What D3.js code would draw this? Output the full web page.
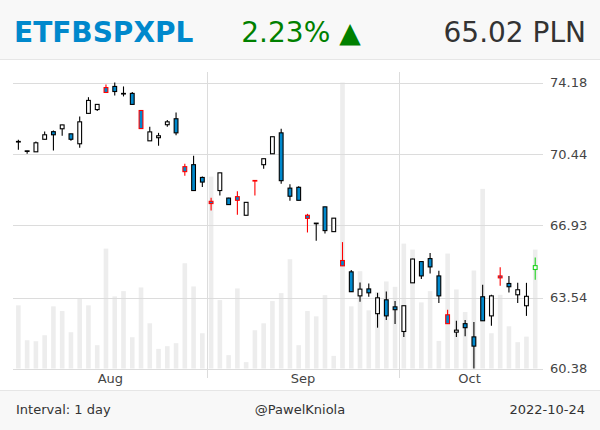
<!DOCTYPE html>
<html><head><meta charset="utf-8">
<script src="https://cdn.jsdelivr.net/npm/d3@7"></script>
<style>
html,body{margin:0;padding:0;background:#fff;}
svg{display:block;font-family:"DejaVu Sans",sans-serif;}
</style></head><body>
<svg id="chart" width="600" height="430"></svg>
<script>
const symbol = "ETFBSPXPL";
const changeLabel = "2.23%";
const priceLabel = "65.02 PLN";
const intervalLabel = "Interval: 1 day";
const authorLabel = "@PawelKniola";
const dateLabel = "2022-10-24";

const dates = [
 "2022-08-01","2022-08-02","2022-08-03","2022-08-04","2022-08-05","2022-08-08","2022-08-09","2022-08-10","2022-08-11","2022-08-12",
 "2022-08-16","2022-08-17","2022-08-18","2022-08-19","2022-08-22","2022-08-23","2022-08-24","2022-08-25","2022-08-26","2022-08-29",
 "2022-08-30","2022-08-31","2022-09-01","2022-09-02","2022-09-05","2022-09-06","2022-09-07","2022-09-08","2022-09-09","2022-09-12",
 "2022-09-13","2022-09-14","2022-09-15","2022-09-16","2022-09-19","2022-09-20","2022-09-21","2022-09-22","2022-09-23","2022-09-26",
 "2022-09-27","2022-09-28","2022-09-29","2022-09-30","2022-10-03","2022-10-04","2022-10-05","2022-10-06","2022-10-07","2022-10-10",
 "2022-10-11","2022-10-12","2022-10-13","2022-10-14","2022-10-17","2022-10-18","2022-10-19","2022-10-20","2022-10-21","2022-10-24"];
const open = [
 71.09,70.61,70.57,71.21,71.60,71.75,71.49,70.98,72.55,72.75,
 73.91,73.97,73.59,73.60,72.70,71.13,71.29,71.96,72.27,69.82,
 69.92,69.28,68.10,68.63,68.26,68.33,67.42,69.12,69.92,70.47,
 71.54,68.75,68.79,67.42,67.03,67.83,66.63,65.26,64.73,63.62,
 63.94,62.81,63.44,63.12,62.01,64.22,65.21,65.35,64.54,62.76,
 61.98,62.36,61.77,63.58,62.71,64.54,64.19,63.67,63.17,64.84];
const high = [
 71.18,70.63,71.10,71.61,71.66,71.96,71.50,72.39,73.40,73.02,
 74.07,74.18,73.97,73.67,72.71,71.85,71.54,72.21,72.60,69.97,
 70.37,69.33,68.27,69.52,68.28,68.60,68.06,69.14,70.22,71.34,
 71.75,68.94,68.84,67.49,67.04,67.84,67.28,66.13,64.82,64.23,
 64.19,63.76,63.82,63.39,63.17,65.34,65.22,65.61,64.78,62.99,
 62.49,62.53,62.44,64.13,63.67,64.94,64.54,64.22,64.22,65.40];
const low = [
 70.67,70.47,70.56,71.20,70.64,71.39,71.13,70.78,72.54,72.68,
 73.64,73.49,73.44,73.01,71.75,71.12,70.88,71.85,71.42,69.37,
 68.62,68.80,67.65,68.38,67.93,67.45,67.41,68.38,69.71,70.46,
 68.97,68.13,68.15,66.59,66.20,66.54,66.62,65.00,63.80,63.35,
 63.58,62.18,62.53,62.35,61.76,64.21,64.40,64.65,63.30,62.35,
 61.76,61.80,60.38,62.48,62.27,64.08,63.77,63.30,62.71,64.36];
const close = [
 71.10,70.62,71.03,71.44,71.44,71.95,71.21,72.11,73.23,73.02,
 73.65,73.70,73.60,73.02,71.76,71.59,71.39,72.11,71.54,69.57,
 68.63,69.05,67.99,69.51,67.94,68.15,68.05,69.13,70.22,71.34,
 69.12,68.35,68.15,67.27,67.04,66.68,67.28,65.01,63.81,63.93,
 63.76,63.53,62.71,62.99,63.17,65.33,64.54,64.96,63.62,62.36,
 62.07,62.18,61.36,62.49,63.62,64.45,64.04,63.90,63.60,65.02];
const volume = [
 2536,1136,1096,1336,2496,2308,1456,2816,2536,936,
 4816,2896,3108,1256,3256,1816,788,896,1016,4228,
 3296,1416,7708,2748,536,3216,256,1536,1816,2708,
 3028,4388,936,2308,2096,2948,508,11488,2496,3908,
 2336,3068,3496,3280,5016,4776,2656,3108,1108,4616,
 3176,2268,3936,7216,1416,2960,1696,1056,1280,4776];
const flaggedDates = ["2022-08-16","2022-08-22","2022-08-29","2022-09-01","2022-09-06",
 "2022-09-08","2022-09-16","2022-09-22","2022-10-10","2022-10-18"];
const yTickLabels = ["60.38","63.54","66.93","70.44","74.18"];
const monthLabels = ["Aug","Sep","Oct"];

const W = 600, H = 430;
const svg = d3.select("#chart");
const candles = dates.map((d,i)=>({date:d,o:open[i],h:high[i],l:low[i],c:close[i],v:volume[i],i}));

// panels
svg.append("rect").attr("x",0).attr("y",0).attr("width",W).attr("height",59).attr("fill","#f8f8f8");
svg.append("line").attr("x1",0).attr("x2",W).attr("y1",59.5).attr("y2",59.5).attr("stroke","#e6e6e6");
svg.append("rect").attr("x",0).attr("y",390).attr("width",W).attr("height",40).attr("fill","#f8f8f8");
svg.append("line").attr("x1",0).attr("x2",W).attr("y1",390.5).attr("y2",390.5).attr("stroke","#e6e6e6");

// header
svg.append("text").attr("x",14).attr("y",42).attr("font-size",28).attr("font-weight","bold")
  .attr("fill","#0088cc").text(symbol);
svg.append("text").attr("x",301).attr("y",42).attr("font-size",28).attr("text-anchor","middle")
  .attr("fill","#008000").text(changeLabel + " \u25B2");
svg.append("text").attr("x",586).attr("y",42).attr("font-size",28).attr("text-anchor","end")
  .attr("fill","#333").text(priceLabel);

// scales
const x = d3.scaleBand().domain(dates).range([14, 539.6]).paddingInner(0).paddingOuter(0);
const step = x.step();
const y = d3.scaleLog().domain([d3.min(low), d3.max(high)]).range([368.5, 82.5]);
const yv = d3.scaleLinear().domain([0, d3.max(volume)]).range([368.5, 82.5]);

const gridL = 13, gridR = 543;

// volume bars
const vw = 4.6;
svg.append("g").selectAll("rect").data(candles).join("rect")
  .attr("x", d => x(d.date) + (step - vw)/2)
  .attr("y", d => yv(d.v))
  .attr("width", vw)
  .attr("height", d => yv(0) - yv(d.v))
  .attr("fill", "#ededed");

// horizontal grid + y labels
const yTicks = yTickLabels.map(Number);
const gy = svg.append("g");
gy.selectAll("line").data(yTicks).join("line")
  .attr("x1", gridL).attr("x2", gridR)
  .attr("y1", d => Math.round(y(d)) + 0.5).attr("y2", d => Math.round(y(d)) + 0.5)
  .attr("stroke", "#dcdcdc");
gy.selectAll("text").data(yTickLabels).join("text")
  .attr("x", 550).attr("y", d => y(+d)).attr("dy","0.35em")
  .attr("font-size", 13).attr("fill", "#444").text(d => d);

// months
const months = d3.groups(candles, d => d.date.slice(0,7)).map(([k, arr], j) => ({
  label: monthLabels[j], first: arr[0].date, last: arr[arr.length-1].date
}));
svg.append("g").selectAll("line").data(months.slice(1)).join("line")
  .attr("x1", d => Math.round(x(d.first)) + 0.5).attr("x2", d => Math.round(x(d.first)) + 0.5)
  .attr("y1", 72).attr("y2", 378).attr("stroke", "#dcdcdc");
svg.append("g").selectAll("text").data(months).join("text")
  .attr("x", d => (x(d.first) + x(d.last) + step) / 2)
  .attr("y", 383).attr("text-anchor", "middle").attr("font-size", 13).attr("fill", "#444")
  .text(d => d.label);

// candles
const lastIdx = candles.length - 1;
const dayChange = close[lastIdx] / close[lastIdx - 1] - 1;
function strokeOf(d) {
  if (d.i === lastIdx) return dayChange >= 0 ? "#1fd31f" : "#ff0000";
  if (flaggedDates.includes(d.date)) return "#ff0000";
  return "#000";
}
const bw = 3.8;
const gc = svg.append("g");
gc.selectAll("line").data(candles).join("line")
  .attr("x1", d => x(d.date) + step/2).attr("x2", d => x(d.date) + step/2)
  .attr("y1", d => y(d.h)).attr("y2", d => y(d.l))
  .attr("stroke", strokeOf).attr("stroke-width", 1.1);
gc.selectAll("rect").data(candles).join("rect")
  .attr("x", d => x(d.date) + (step - bw)/2)
  .attr("y", d => y(Math.max(d.o, d.c)))
  .attr("width", bw)
  .attr("height", d => Math.max(0.6, Math.abs(y(d.o) - y(d.c))))
  .attr("fill", d => d.c >= d.o ? "#ffffff" : "#0088cc")
  .attr("stroke", strokeOf).attr("stroke-width", 1.1);

// footer
svg.append("text").attr("x",16).attr("y",414).attr("font-size",13).attr("fill","#333").text(intervalLabel);
svg.append("text").attr("x",300).attr("y",414).attr("font-size",13).attr("fill","#333").attr("text-anchor","middle").text(authorLabel);
svg.append("text").attr("x",585).attr("y",414).attr("font-size",13).attr("fill","#333").attr("text-anchor","end").text(dateLabel);
</script>
</body></html>
